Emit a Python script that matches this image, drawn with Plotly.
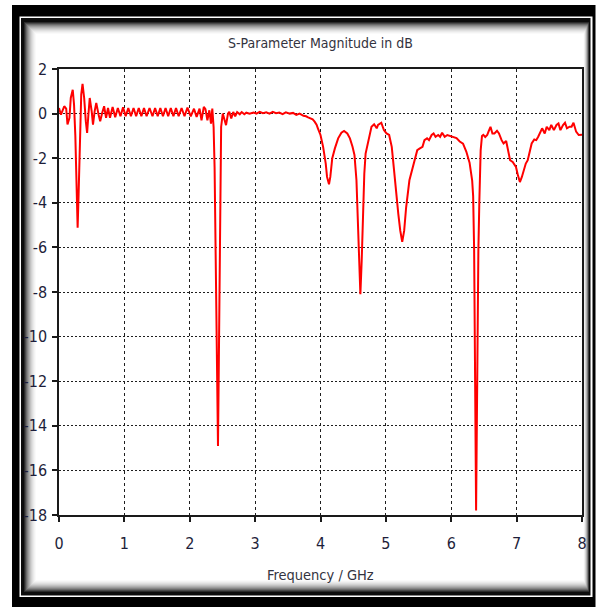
import plotly.graph_objects as go

# ---- data ----
freq_ghz = [
    0.00, 0.03, 0.05, 0.08, 0.11, 0.13, 0.16, 0.18, 0.21, 0.23, 0.25, 0.27, 0.285, 0.30, 0.32,
    0.34, 0.36, 0.385, 0.41, 0.43, 0.45, 0.47, 0.50, 0.52, 0.545, 0.57, 0.605, 0.63, 0.66, 0.69,
    0.72, 0.75, 0.78, 0.82, 0.86, 0.90, 0.94, 0.98, 1.02, 1.06, 1.10, 1.14, 1.18, 1.22, 1.26,
    1.30, 1.34, 1.385, 1.43, 1.47, 1.51, 1.55, 1.59, 1.63, 1.67, 1.71, 1.75, 1.79, 1.83, 1.875,
    1.92, 1.965, 2.015, 2.065, 2.105, 2.15, 2.18, 2.215, 2.24, 2.27, 2.30, 2.325, 2.345, 2.365,
    2.38, 2.395, 2.41, 2.42, 2.432, 2.442, 2.452, 2.462, 2.47, 2.48, 2.505, 2.535, 2.555, 2.585,
    2.605, 2.635, 2.665, 2.695, 2.725, 2.765, 2.795, 2.835, 2.865, 2.915, 2.975, 3.02, 3.07, 3.12,
    3.17, 3.22, 3.27, 3.32, 3.37, 3.42, 3.47, 3.53, 3.58, 3.63, 3.68, 3.74, 3.78, 3.81, 3.84,
    3.88, 3.91, 3.94, 3.96, 4.00, 4.04, 4.08, 4.10, 4.13, 4.15, 4.18, 4.22, 4.27, 4.32, 4.36,
    4.41, 4.45, 4.49, 4.52, 4.55, 4.57, 4.59, 4.61, 4.63, 4.65, 4.67, 4.69, 4.72, 4.75, 4.78,
    4.82, 4.86, 4.88, 4.93, 4.97, 5.01, 5.05, 5.09, 5.12, 5.15, 5.19, 5.22, 5.25, 5.28, 5.31,
    5.36, 5.40, 5.44, 5.48, 5.52, 5.56, 5.59, 5.63, 5.66, 5.70, 5.73, 5.76, 5.80, 5.83, 5.86,
    5.90, 5.94, 5.98, 6.03, 6.08, 6.13, 6.18, 6.23, 6.28, 6.32, 6.335, 6.35, 6.36, 6.37, 6.38,
    6.39, 6.40, 6.415, 6.43, 6.45, 6.47, 6.49, 6.52, 6.55, 6.57, 6.60, 6.63, 6.66, 6.70, 6.73,
    6.77, 6.80, 6.84, 6.87, 6.90, 6.94, 6.99, 7.02, 7.05, 7.08, 7.11, 7.14, 7.17, 7.20, 7.23,
    7.27, 7.30, 7.33, 7.36, 7.39, 7.43, 7.46, 7.50, 7.53, 7.57, 7.61, 7.64, 7.67, 7.71, 7.74,
    7.77, 7.81, 7.84, 7.87, 7.91, 7.95, 8.00,
]
s_param_db = [
    0.25, -0.05, 0.10, 0.33, 0.22, -0.49, -0.19, 0.70, 1.07, 0.40, -1.00, -3.40, -5.12, -3.60, -1.20,
    0.85, 1.33, 0.70, -0.34, -0.87, -0.04, 0.70, 0.10, -0.49, 0.10, 0.48, -0.04, -0.34, 0.03, 0.33,
    -0.19, 0.25, -0.19, 0.30, -0.16, 0.25, -0.12, 0.28, -0.12, 0.25, -0.12, 0.25, -0.12, 0.25, -0.12,
    0.25, -0.12, 0.25, -0.12, 0.25, -0.12, 0.25, -0.12, 0.25, -0.12, 0.25, -0.12, 0.25, -0.12, 0.25,
    -0.12, 0.27, -0.12, 0.22, -0.15, 0.22, -0.30, 0.30, 0.20, -0.30, 0.15, -0.45, 0.22, -0.60,
    -2.40, -5.50, -8.00, -11.50, -14.90, -12.00, -9.00, -5.00, -2.70, -0.60, 0.00, -0.37, -0.52, 0.00,
    0.08, -0.22, 0.07, -0.12, 0.07, -0.03, 0.07, -0.03, 0.04, 0.00, 0.05, 0.00, 0.08, 0.02,
    0.06, 0.00, 0.08, 0.02, 0.05, -0.02, 0.06, 0.00, 0.03, -0.06, 0.00, -0.10, -0.12, -0.17, -0.20,
    -0.26, -0.36, -0.50, -0.66, -0.96, -1.49, -2.24, -2.84, -3.17, -2.84, -2.00, -1.56, -1.11, -0.86, -0.78,
    -0.89, -1.11, -1.49, -1.86, -2.99, -4.50, -6.60, -8.10, -6.60, -4.50, -2.70, -1.79, -1.34, -0.89, -0.59,
    -0.48, -0.66, -0.51, -0.41, -0.74, -0.89, -0.96, -1.49, -2.39, -3.44, -4.50, -5.25, -5.75, -5.25, -4.20,
    -2.99, -2.54, -2.17, -1.64, -1.56, -1.49, -1.19, -1.11, -1.19, -0.96, -0.89, -1.04, -0.96, -1.04, -0.86,
    -1.04, -0.96, -1.01, -1.05, -1.10, -1.25, -1.35, -1.70, -2.20, -3.00, -3.70, -6.10, -9.90, -14.40, -17.80,
    -14.40, -9.90, -6.10, -3.90, -1.65, -1.00, -0.95, -1.05, -0.96, -0.81, -0.59, -0.89, -0.89, -0.77, -0.89,
    -1.19, -1.34, -1.23, -1.64, -2.09, -2.17, -2.39, -2.77, -3.07, -2.84, -2.47, -2.24, -2.09, -1.71, -1.34,
    -1.16, -1.19, -1.04, -0.81, -0.66, -0.89, -0.59, -0.74, -0.51, -0.74, -0.51, -0.44, -0.74, -0.51, -0.41,
    -0.66, -0.59, -0.59, -0.41, -0.81, -0.96, -0.95,
]
x_tick_vals = [0, 1, 2, 3, 4, 5, 6, 7, 8]
x_tick_text = ["0", "1", "2", "3", "4", "5", "6", "7", "8"]
y_tick_vals = [2, 0, -2, -4, -6, -8, -10, -12, -14, -16, -18]
y_tick_text = ["2", "0", "-2", "-4", "-6", "-8", "-10", "-12", "-14", "-16", "-18"]
title_text = "S-Parameter Magnitude in dB"
x_title_text = "Frequency / GHz"

# ---- layout geometry ----
W, H = 599, 607
ML, MR, MT, MB = 59, 17, 69, 92
PW, PH = W - ML - MR, H - MT - MB
FONT = "Liberation Sans Narrow, DejaVu Sans Condensed, Arial Narrow, sans-serif"


def px_to_paper(x, y):
    return (x - ML) / PW, (H - MB - y) / PH


def rect(x0, y0, x1, y1, color):
    a, b = px_to_paper(x0, y0)
    c, d = px_to_paper(x1, y1)
    return dict(type="rect", xref="paper", yref="paper", x0=a, y0=d, x1=c, y1=b,
                fillcolor=color, line=dict(width=0), layer="below")


shapes = [
    rect(12, 5, 595.5, 607, "#000000"),
    rect(19.5, 16.5, 592.5, 597, "#ffffff"),
    rect(21, 18, 590.5, 595.5, "#0c0c0c"),
]
grad = ["#2a2a2a", "#4a4a4a", "#6a6a6a", "#858585", "#9c9c9c", "#b0b0b0", "#c2c2c2",
        "#d2d2d2", "#dfdfdf", "#eaeaea", "#f3f3f3", "#fafafa", "#ffffff"]
for i, col in enumerate(grad):
    shapes.append(rect(24 + i, 22 + i, 589 - 0.45 * i, 592 - i, col))

fig = go.Figure()
fig.add_trace(go.Scatter(x=freq_ghz, y=s_param_db, mode="lines",
                         line=dict(color="#ff0000", width=2), hoverinfo="skip",
                         showlegend=False))

axis_common = dict(
    showline=True, linecolor="#1a1a1a", linewidth=1.5, mirror=True,
    ticks="outside", ticklen=5, tickcolor="#1a1a1a", tickwidth=1.5,
    showgrid=True, gridcolor="#1e1e1e", gridwidth=1, zeroline=False,
    tickfont=dict(family=FONT, size=16, color="#1e1e3a"),
)

fig.update_layout(
    width=W, height=H,
    margin=dict(l=ML, r=MR, t=MT, b=MB, pad=0),
    paper_bgcolor="#ffffff", plot_bgcolor="#ffffff",
    shapes=shapes,
    xaxis=dict(range=[0, 8], tickvals=x_tick_vals, ticktext=x_tick_text,
               griddash="3px,3px", ticklabelstandoff=8, **axis_common),
    yaxis=dict(range=[-18, 2], tickvals=y_tick_vals, ticktext=y_tick_text,
               griddash="2px,2px", ticklabelstandoff=2, **axis_common),
    annotations=[
        dict(text=title_text, xref="paper", yref="paper", x=0.5,
             y=px_to_paper(0, 43)[1], xanchor="center", yanchor="middle",
             showarrow=False, font=dict(family=FONT, size=14, color="#333340")),
        dict(text=x_title_text, xref="paper", yref="paper", x=0.5,
             y=px_to_paper(0, 575)[1], xanchor="center", yanchor="middle",
             showarrow=False, font=dict(family=FONT, size=14.5, color="#333340")),
    ],
)

fig.write_html(
    "out.html",
    config={"displayModeBar": False},
    post_script="document.body.style.margin='0';document.body.style.padding='0';",
)
